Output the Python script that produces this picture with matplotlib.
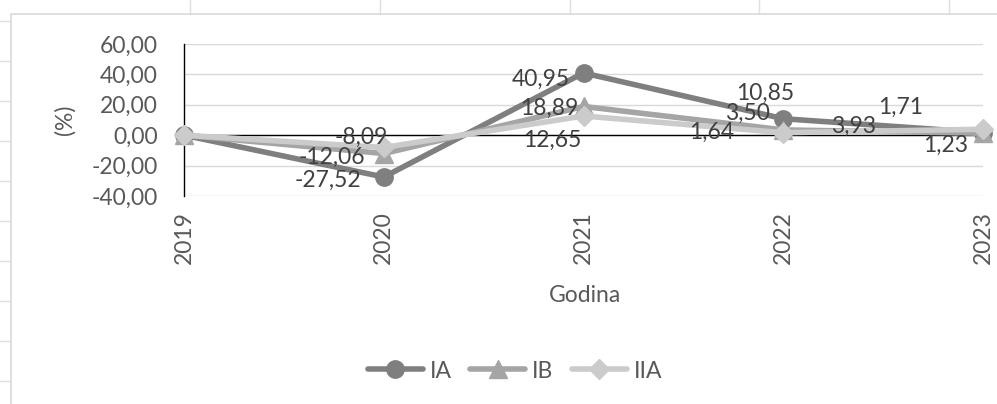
import matplotlib.pyplot as plt
from matplotlib.lines import Line2D

plt.rcParams['font.family'] = ['Lato', 'DejaVu Sans']

years = ['2019', '2020', '2021', '2022', '2023']
ia = [0.00, -27.52, 40.95, 10.85, 1.71]
ib = [0.00, -12.06, 18.89, 3.50, 1.23]
iia = [0.00, -8.09, 12.65, 1.64, 3.93]

series = [
    ('IA', ia, '#7f7f7f', 'o', 12.5),
    ('IB', ib, '#a5a5a5', '^', 12.5),
    ('IIA', iia, '#cbcbcb', 'D', 10.5),
]

# label offsets in pixels (dx, dy up) for each point, 2019 has no label
label_offsets = {
    'IA': [None, (-56, -3), (-43, -6), (-18, 25), (-82, 25)],
    'IB': [None, (-52, -4), (-34, -2), (-36, 17), (-37, -12)],
    'IIA': [None, (-22, 10), (-31, -24), (-72, 0), (-129, 3)],
}

FS = 16.5
W, H = 997, 404
fig = plt.figure(figsize=(W / 100, H / 100), dpi=100)
fig.patch.set_facecolor('white')

# sheet cell grid behind the chart object
grid_col = '#e0e0e0'
for y in range(21, H, 40):
    fig.add_artist(Line2D([0, 10 / W], [1 - y / H, 1 - y / H], color=grid_col, lw=1))
for x in [190, 380, 570, 759, 949]:
    fig.add_artist(Line2D([x / W, x / W], [1, 1 - 13 / H], color=grid_col, lw=1))
# chart area border
fig.add_artist(Line2D([10.5 / W, 10.5 / W, 1], [0, 1 - 13.5 / H, 1 - 13.5 / H],
                      color='#d9d9d9', lw=1.2))

ax = fig.add_axes([184 / W, 1 - 196 / H, (983 - 184) / W, (196 - 44) / H])
x = list(range(len(years)))

for name, vals, col, mk, ms in series:
    ax.plot(x, vals, color=col, lw=4, marker=mk, ms=ms, mfc=col, mec=col,
            label=name, solid_capstyle='round', clip_on=False, zorder=3)

for name, vals, col, mk, ms in series:
    for i, v in enumerate(vals):
        off = label_offsets[name][i]
        if off is None:
            continue
        ax.annotate(f'{v:.2f}'.replace('.', ','), (x[i], v), xytext=off,
                    textcoords='offset pixels', ha='center', va='center',
                    fontsize=FS, color='#404040', zorder=5)

ax.set_xlim(0, 4)
ax.set_ylim(-40, 60)
ax.set_yticks(range(-40, 61, 20))
ax.set_yticklabels([f'{t:.2f}'.replace('.', ',') for t in range(-40, 61, 20)])
ax.set_xticks(x)
ax.set_xticklabels(years, rotation=90)

ax.yaxis.grid(True, color='#d9d9d9', lw=1)
ax.set_axisbelow(True)
ax.axhline(0, color='black', lw=1, zorder=2)
for s in ['top', 'right', 'bottom']:
    ax.spines[s].set_visible(False)
ax.spines['left'].set_color('black')
ax.spines['left'].set_linewidth(1)

ax.tick_params(axis='y', length=0, pad=19, labelsize=FS, labelcolor='#595959')
ax.tick_params(axis='x', length=0, pad=11, labelsize=FS, labelcolor='#595959')

fig.text(585 / W, 1 - 296 / H, 'Godina', ha='center', va='center',
         fontsize=FS, color='#595959')
fig.text(65 / W, 1 - 120 / H, '(%)', ha='center', va='center', rotation=90,
         fontsize=FS, color='#595959')

fig.legend(loc='center', bbox_to_anchor=(515 / W, 1 - 371 / H), ncol=3,
           frameon=False, fontsize=FS, labelcolor='#595959', handlelength=2.4,
           handletextpad=0.3, columnspacing=0.8, numpoints=1)

fig.savefig('out.png', dpi=100, facecolor='white')
